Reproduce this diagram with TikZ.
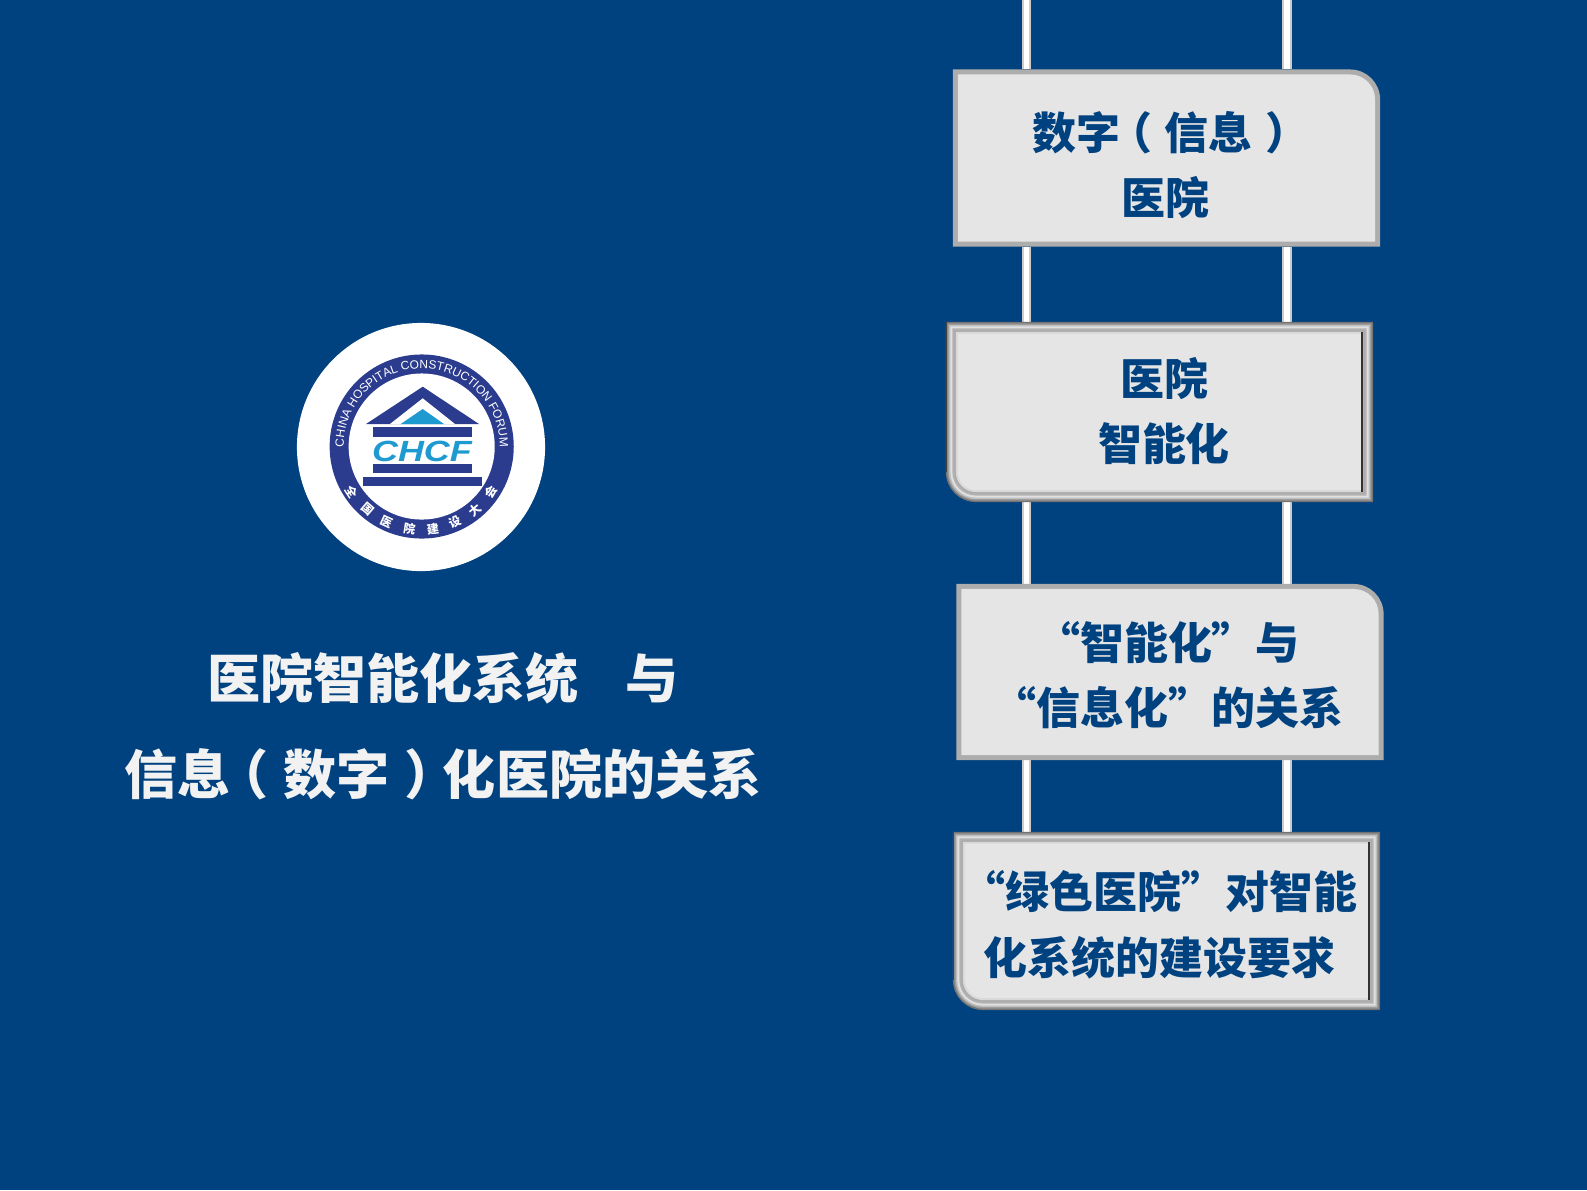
\documentclass[tikz,border=0pt]{standalone}
\usepackage{fontspec}
\usetikzlibrary{decorations.text}
\newfontfamily\cjk[BoldFont={Noto Sans CJK SC Black}]{Noto Sans CJK SC}
\newfontfamily\logofont{Liberation Sans}
\definecolor{deepblue}{HTML}{00417F}
\definecolor{ringblue}{HTML}{2B3C8E}
\definecolor{roofcyan}{HTML}{1F9AD0}
\definecolor{panelgrey}{HTML}{E6E6E6}
\definecolor{titlewhite}{HTML}{F2F2F2}
\tikzset{
  panel/.style={rectangle,inner sep=0,outer sep=0,minimum width=4.27cm,minimum height=1.77cm},
  paneltext/.style={font=\cjk\bfseries\fontsize{12.5}{18.7}\selectfont,text=deepblue,inner sep=0},
  titletext/.style={font=\cjk\bfseries\fontsize{15.1}{27.2}\selectfont,text=titlewhite,inner sep=0,align=center},
  rope/.style={draw=black!20,double=white,double distance=0.055cm,line width=0.018cm}
}
% full-width brackets sitting in the middle of their cell
\newcommand{\openp}{\hspace{-.28em}（\hspace{.28em}}
\newcommand{\closep}{\hspace{.28em}）\hspace{-.28em}}
% px offsets: node, inset, grey
\newcommand{\flatpanel}[1]{
  \foreach \inset/\tone in {0/32,5/10}{
    \fill[black!\tone] ([shift={(\inset,\inset)}]#1.north west) [rounded corners={(30-\inset)*0.01cm}] -- ([shift={(-\inset,\inset)}]#1.north east) [sharp corners] -- ([shift={(-\inset,-\inset)}]#1.south east) -- ([shift={(\inset,-\inset)}]#1.south west) -- cycle;
  }
}
\newcommand{\bevelpanel}[1]{
  \foreach \inset/\tone in {0/55,1.5/40,3/25,4.5/12,6.5/30,8.5/33,10/15,12/10}{
    \fill[black!\tone] ([shift={(\inset,\inset)}]#1.north west) -- ([shift={(-\inset,\inset)}]#1.north east) -- ([shift={(-\inset,-\inset)}]#1.south east) [rounded corners={(30-\inset)*0.01cm}] -- ([shift={(\inset,-\inset)}]#1.south west) [sharp corners] -- cycle;
  }
  \draw[black!75,line width=0.015cm] ([shift={(0.75,-30)}]#1.south west) -- ([shift={(0.75,0)}]#1.north west);
  \draw[black!80,line width=0.022cm] ([shift={(-11,10)}]#1.north east) -- ([shift={(-11,-10)}]#1.south east);
}
\begin{document}
\begin{tikzpicture}[x=0.01cm,y=-0.01cm]
  \useasboundingbox (0,0) rectangle (1587,1190);
  \fill[deepblue] (0,0) rectangle (1587,1190);

  \node[panel] (digital) at (1166.5,158) {};
  \node[panel,minimum height=1.8cm] (smart) at (1159.5,412) {};
  \node[panel,minimum height=1.76cm] (relation) at (1170,672) {};
  \node[panel,minimum height=1.78cm] (green) at (1166.5,921) {};

  \coordinate (ropeleft) at (1026.5,0);
  \coordinate (roperight) at (1287,0);
  \foreach \rp in {ropeleft,roperight}{
    \draw[rope] (\rp) -- (\rp |- digital.north);
    \draw[rope] (\rp |- digital.south) -- (\rp |- smart.north);
    \draw[rope] (\rp |- smart.south) -- (\rp |- relation.north);
    \draw[rope] (\rp |- relation.south) -- (\rp |- green.north);
  }

  \flatpanel{digital}
  \bevelpanel{smart}
  \flatpanel{relation}
  \bevelpanel{green}

  \node[paneltext,align=center] (digitaltext) at (1171,165) {数字\openp 信息\closep\\\hspace*{-0.12cm}医院};
  \node[paneltext,align=center] (smarttext) at (1164,411) {医院\\智能化};
  \node[paneltext,align=center] (relationtext) at (1168,675) {“智能化”与\\“信息化”的关系};
  \node[paneltext,align=left,anchor=west] (greentext) at (983,925) {\hspace*{-0.22cm}“绿色医院”对智能\\化系统的建设要求};

  \node[titletext] (title) at (443,726) {医院智能化系统\hspace{-0.06cm}　与\\信息\openp 数字\closep 化医院的关系};

  % logo
  \node[circle,fill=white,inner sep=0,minimum size=2.48cm] (logo) at (421,447) {};
  \node[circle,fill=ringblue,inner sep=0,minimum size=1.84cm] (logoring) at (421.7,446.5) {};
  \node[circle,fill=white,inner sep=0,minimum size=1.46cm] (logoface) at (421.7,446.5) {};
  \fill[ringblue] (366,424) -- (422.7,386.7) -- (479,424) -- cycle;
  \fill[white] (390,424) -- (422.7,398.3) -- (455,424) -- cycle;
  \fill[roofcyan] (400.7,424) -- (422.7,409) -- (444,424) -- cycle;
  \fill[ringblue] (373.3,427.3) rectangle (471.7,437.3);
  \fill[ringblue] (373.3,464) rectangle (471.7,473.3);
  \fill[ringblue] (363.3,476.7) rectangle (481.7,485.7);
  \node[font=\logofont\bfseries\itshape\fontsize{8.3}{8.3}\selectfont,text=roofcyan,inner sep=0,transform shape,xscale=1.23] (logoname) at (422,451) {CHCF};
  \begin{scope}[shift={(logoring.center)},x=1cm,y=1cm]
    \path[decorate,decoration={text along path,text align=center,
      text={|\logofont\fontsize{3.4}{4}\selectfont\color{white}|CHINA HOSPITAL CONSTRUCTION FORUM}}]
      (186:0.78) arc [start angle=186,end angle=-6,radius=0.78];
    \foreach \i/\glyph in {0/全,1/国,2/医,3/院,4/建,5/设,6/大,7/会}{
      \pgfmathsetmacro{\ang}{213+\i*16.2}
      \node[font=\cjk\bfseries\fontsize{3.4}{4}\selectfont,text=white,inner sep=0,rotate=\ang+90] (seal\i) at (\ang:0.83) {\glyph};
    }
  \end{scope}
\end{tikzpicture}
\end{document}
